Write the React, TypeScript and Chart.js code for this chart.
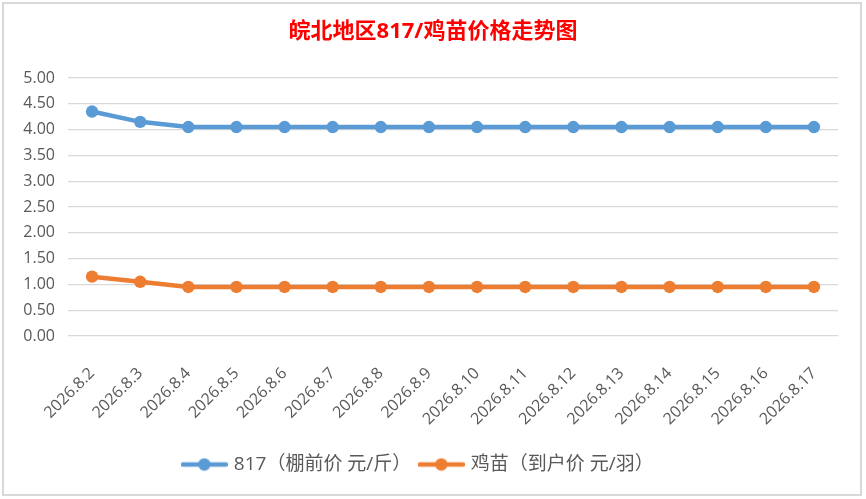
import { useEffect, useRef } from "react";
import { Chart, registerables } from "chart.js";
import type { Plugin } from "chart.js";

Chart.register(...registerables);

const dates = [
  "2026.8.2", "2026.8.3", "2026.8.4", "2026.8.5", "2026.8.6", "2026.8.7",
  "2026.8.8", "2026.8.9", "2026.8.10", "2026.8.11", "2026.8.12", "2026.8.13",
  "2026.8.14", "2026.8.15", "2026.8.16", "2026.8.17",
];
const price817 = [4.35, 4.15, 4.05, 4.05, 4.05, 4.05, 4.05, 4.05, 4.05, 4.05, 4.05, 4.05, 4.05, 4.05, 4.05, 4.05];
const priceChick = [1.15, 1.05, 0.95, 0.95, 0.95, 0.95, 0.95, 0.95, 0.95, 0.95, 0.95, 0.95, 0.95, 0.95, 0.95, 0.95];
const seriesNames = ["817（棚前价 元/斤）", "鸡苗（到户价 元/羽）"];
const title = "皖北地区817/鸡苗价格走势图";

const BLUE = "#5B9BD5";
const ORANGE = "#ED7D31";
const TEXT = "#595959";
const FONT = '"Open Sans", "Noto Sans CJK SC", sans-serif';

// legend marker: line with a dot in the middle
function makeMarker(color: string) {
  const c = document.createElement("canvas");
  c.width = 47;
  c.height = 14;
  const g = c.getContext("2d")!;
  g.strokeStyle = color;
  g.lineWidth = 4.5;
  g.lineCap = "round";
  g.beginPath();
  g.moveTo(2, 7);
  g.lineTo(45, 7);
  g.stroke();
  g.fillStyle = color;
  g.beginPath();
  g.arc(23.5, 7, 6.2, 0, Math.PI * 2);
  g.fill();
  return c;
}

// title is centred on the whole canvas, not only the padded area
const titleFullWidth: Plugin<"line"> = {
  id: "titleFullWidth",
  afterLayout(chart) {
    const t = (chart as any).titleBlock;
    if (t) {
      t.left = 0;
      t.right = chart.width;
    }
  },
};

export default function App() {
  const canvasRef = useRef<HTMLCanvasElement>(null);
  const chartRef = useRef<Chart<"line"> | null>(null);

  useEffect(() => {
    document.body.style.margin = "0";
    if (!canvasRef.current) return;
    if (chartRef.current) chartRef.current.destroy();

    const markers = [makeMarker(BLUE), makeMarker(ORANGE)];

    chartRef.current = new Chart(canvasRef.current, {
      type: "line",
      data: {
        labels: dates,
        datasets: [
          {
            label: seriesNames[0],
            data: price817,
            borderColor: BLUE,
            backgroundColor: BLUE,
            borderWidth: 4.5,
            pointRadius: 6.2,
            pointBorderWidth: 0,
            pointBackgroundColor: BLUE,
            tension: 0,
          },
          {
            label: seriesNames[1],
            data: priceChick,
            borderColor: ORANGE,
            backgroundColor: ORANGE,
            borderWidth: 4.5,
            pointRadius: 6.2,
            pointBorderWidth: 0,
            pointBackgroundColor: ORANGE,
            tension: 0,
          },
        ],
      },
      options: {
        animation: false,
        responsive: false,
        devicePixelRatio: 1,
        layout: { padding: { left: 0, right: 28, top: 0, bottom: 15 } },
        plugins: {
          title: {
            display: true,
            text: title,
            color: "#FF0000",
            font: { family: FONT, size: 22, weight: "bold", lineHeight: 1.2 },
            padding: { top: 19, bottom: 32.6 },
          },
          legend: {
            position: "bottom",
            labels: {
              usePointStyle: true,
              pointStyleWidth: 40,
              padding: 10,
              color: TEXT,
              font: { family: FONT, size: 19 },
              generateLabels: (chart) =>
                chart.data.datasets.map((ds, i) => ({
                  text: ds.label as string,
                  fillStyle: ds.borderColor as string,
                  strokeStyle: ds.borderColor as string,
                  lineWidth: 0,
                  pointStyle: markers[i],
                  hidden: false,
                  datasetIndex: i,
                  fontColor: TEXT,
                })),
            },
          },
          tooltip: { enabled: false },
        },
        scales: {
          x: {
            offset: true,
            grid: { display: false, drawTicks: false },
            border: { display: false },
            ticks: {
              color: TEXT,
              font: { family: FONT, size: 16 },
              maxRotation: 45,
              minRotation: 45,
              padding: 28,
              autoSkip: false,
            },
            afterFit: (scale) => {
              scale.height = 109;
            },
          },
          y: {
            min: 0,
            max: 5,
            grid: { color: "#D9D9D9", lineWidth: 1.3, drawTicks: false },
            border: { display: false },
            ticks: {
              stepSize: 0.5,
              color: TEXT,
              font: { family: FONT, size: 16 },
              padding: 13,
              callback: (v) => Number(v).toFixed(2),
            },
            afterFit: (scale) => {
              scale.width = 68;
            },
          },
        },
      },
      plugins: [titleFullWidth],
    });

    return () => {
      if (chartRef.current) {
        chartRef.current.destroy();
        chartRef.current = null;
      }
    };
  }, []);

  return (
    <div style={{ position: "relative", width: 866, height: 499, background: "#fff" }}>
      <canvas ref={canvasRef} width={866} height={499} style={{ position: "absolute", left: 0, top: 0 }} />
      <div
        style={{
          position: "absolute",
          left: 2,
          top: 2,
          width: 860,
          height: 494,
          border: "2px solid #D9D9D9",
          boxSizing: "border-box",
          pointerEvents: "none",
        }}
      />
    </div>
  );
}
